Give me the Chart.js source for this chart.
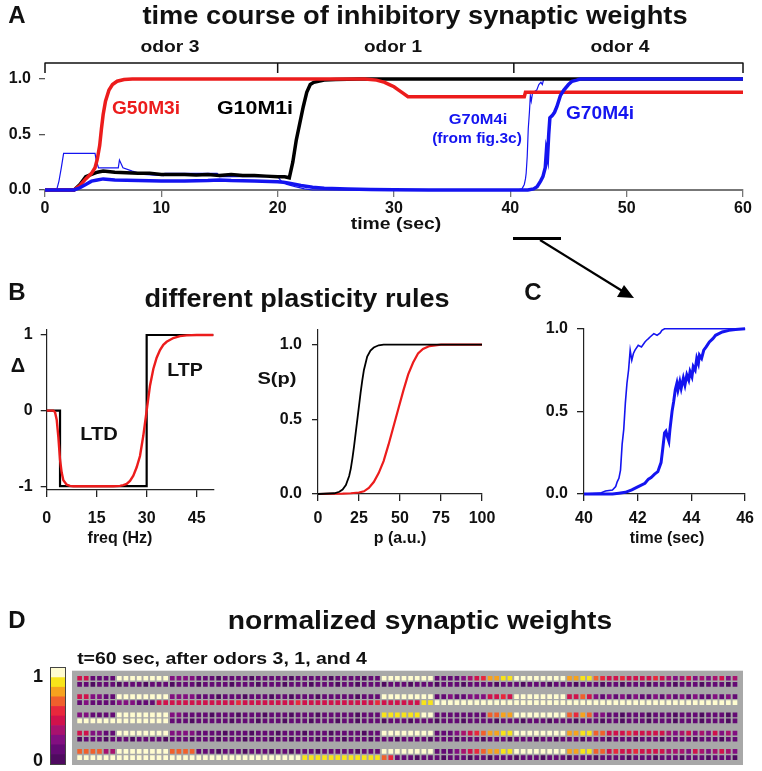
<!DOCTYPE html>
<html>
<head>
<meta charset="utf-8">
<script src="https://cdn.jsdelivr.net/npm/chart.js@4.4.1/dist/chart.umd.min.js"></script>
<style>
  html, body { margin: 0; padding: 0; background: #fff; }
  body { width: 762px; height: 771px; position: relative; overflow: hidden; font-family: "Liberation Sans", Arial, sans-serif; }
  canvas { position: absolute; }
  .t { position: absolute; white-space: nowrap; font-weight: bold; line-height: 1; color: #111; }
  svg { position: absolute; left: 0; top: 0; }
</style>
</head>
<body>
<canvas id="chartA"></canvas>
<canvas id="chartB1"></canvas>
<canvas id="chartB2"></canvas>
<canvas id="chartC"></canvas>
<canvas id="chartD"></canvas>
<canvas id="colorBar" style="outline:1px solid #444"></canvas>
<svg width="762" height="771">
  <line x1="513" y1="238.5" x2="561" y2="238.5" stroke="#000" stroke-width="3"/>
  <line x1="540" y1="240" x2="624" y2="292" stroke="#000" stroke-width="2.2"/>
  <polygon points="634,298 617,297 624,285" fill="#000"/>
</svg>
<script>
// ---------- panel A: time course of inhibitory weights ----------
const odorBounds = [0, 20, 40.3, 60];
const timeTicks = [0, 10, 20, 30, 40, 50, 60];
const weightTicks = [0, 0.5, 1];

const redT = [0, 2.5, 3.0, 3.5, 4.0, 4.3, 4.5, 4.7, 4.85, 5.0, 5.2, 5.5, 5.8, 6.2, 6.8, 7.5, 27.5, 28.5, 29.2, 29.6, 30.0, 30.4, 30.8, 31.2, 41.2, 41.3, 60];
const redW = [0, 0, 0.04, 0.1, 0.15, 0.2, 0.28, 0.4, 0.55, 0.68, 0.8, 0.9, 0.95, 0.98, 0.995, 1.0, 1.0, 0.99, 0.97, 0.95, 0.93, 0.9, 0.87, 0.84, 0.84, 0.88, 0.88];

const blackT = [0, 2.5, 3.0, 3.5, 4.0, 4.5, 5.0, 6.0, 7.0, 8.0, 9.0, 10, 11, 12, 13, 14, 15, 16, 17, 18, 19, 20, 20.6, 21.0, 21.3, 21.6, 21.9, 22.2, 22.5, 22.8, 23.1, 23.5, 24, 25, 27, 60];
const blackW = [0, 0, 0.05, 0.12, 0.14, 0.16, 0.17, 0.16, 0.155, 0.15, 0.15, 0.14, 0.14, 0.14, 0.135, 0.14, 0.13, 0.14, 0.13, 0.13, 0.125, 0.12, 0.12, 0.11, 0.25, 0.45, 0.6, 0.75, 0.88, 0.95, 0.97, 0.98, 0.99, 0.995, 1.0, 1.0];

const blueT = [0, 2.5, 3.0, 3.5, 4.0, 4.5, 5, 6, 8, 10, 12, 14, 15, 16, 18, 20, 20.5, 21, 22, 23, 24, 26, 28, 30, 33, 36, 41.5, 42.0, 42.3, 42.6, 42.8, 43.0, 43.1, 43.2, 43.3, 43.4, 43.6, 43.8, 44.0, 44.3, 44.6, 45.0, 45.3, 45.7, 46, 60];
const blueW = [0, 0, 0.02, 0.05, 0.08, 0.09, 0.1, 0.09, 0.085, 0.08, 0.08, 0.085, 0.09, 0.085, 0.08, 0.075, 0.07, 0.06, 0.04, 0.025, 0.015, 0.01, 0.005, 0.003, 0.001, 0, 0, 0.01, 0.03, 0.08, 0.12, 0.2, 0.35, 0.3, 0.5, 0.65, 0.67, 0.7, 0.75, 0.85, 0.9, 0.95, 0.98, 0.99, 1.0, 1.0];

// thin blue: G70M4i from fig.3c
const thinT = [0, 1.0, 1.2, 1.4, 1.6, 4.3, 4.4, 4.6, 6.3, 6.4, 6.7, 7.5, 8.5, 10.2, 10.3, 14.8, 15.0, 20.0, 20.3, 20.8, 21.5, 22.3, 23, 40.6, 41.0, 41.2, 41.3, 41.36, 41.45, 41.54, 41.64, 41.72, 41.8, 41.9, 42.0, 42.27, 42.45, 42.63, 42.75, 42.87, 60];
const thinW = [0, 0, 0.08, 0.2, 0.33, 0.33, 0.27, 0.2, 0.2, 0.27, 0.2, 0.17, 0.14, 0.13, 0.15, 0.15, 0.12, 0.12, 0.08, 0.05, 0.03, 0.01, 0, 0, 0.01, 0.05, 0.1, 0.15, 0.3, 0.55, 0.7, 0.85, 0.8, 0.87, 0.88, 0.9, 0.95, 0.97, 0.95, 1.0, 1.0];

// ---------- panel B: plasticity rules ----------
const freqTicks = [0, 15, 30, 45];
const deltaTicks = [-1, 0, 1];
const stepFreq = [0, 4, 4, 30, 30, 50];
const stepDelta = [0, 0, -1, -1, 1, 1];
const smoothFreq = [0, 2, 2.5, 3, 3.5, 4, 4.5, 5, 6, 7, 8, 20, 22, 23, 24, 25, 26, 27, 28, 29, 30, 31, 32, 33, 34, 35, 36, 38, 40, 42, 45, 50];
const smoothDelta = [0, 0, -0.02, -0.12, -0.35, -0.65, -0.82, -0.92, -0.98, -0.995, -1, -1, -0.995, -0.985, -0.97, -0.93, -0.86, -0.75, -0.6, -0.33, 0.0, 0.33, 0.55, 0.7, 0.8, 0.87, 0.91, 0.96, 0.985, 0.995, 1.0, 1.0];

const pTicks = [0, 25, 50, 75, 100];
const sTicks = [0, 0.5, 1];
const pBlack = [0, 10, 13, 15, 17, 19, 20, 21, 22, 23, 24, 25, 26, 27, 28, 30, 32, 34, 37, 40, 100];
const sBlack = [0, 0.005, 0.015, 0.03, 0.06, 0.12, 0.17, 0.24, 0.32, 0.41, 0.5, 0.59, 0.68, 0.76, 0.83, 0.92, 0.96, 0.98, 0.995, 1, 1];
const pRed = [0, 15, 20, 25, 28, 31, 34, 37, 40, 43, 46, 49, 52, 55, 58, 61, 64, 68, 75, 100];
const sRed = [0, 0.002, 0.005, 0.01, 0.018, 0.04, 0.08, 0.14, 0.22, 0.33, 0.45, 0.57, 0.69, 0.8, 0.88, 0.94, 0.97, 0.99, 1, 1];

// ---------- panel C: zoom on odor 4 onset ----------
const zoomTicks = [40, 42, 44, 46];
const zoomThinT = [40, 40.6, 40.8, 41.06, 41.18, 41.24, 41.3, 41.36, 41.42, 41.48, 41.54, 41.6, 41.66, 41.72, 41.78, 41.84, 41.9, 42.02, 42.14, 42.27, 42.33, 42.4, 42.46, 42.6, 42.72, 42.84, 42.9, 43.0, 46];
const zoomThinW = [0, 0.005, 0.018, 0.024, 0.045, 0.075, 0.095, 0.145, 0.3, 0.39, 0.55, 0.67, 0.75, 0.87, 0.81, 0.85, 0.87, 0.9, 0.89, 0.92, 0.93, 0.94, 0.95, 0.97, 0.96, 0.975, 0.99, 1.0, 1.0];
const zoomThickT = [40, 41.06, 41.3, 41.54, 41.78, 42.02, 42.27, 42.4, 42.5, 42.63, 42.75, 42.87, 42.93, 43.0, 43.05, 43.1, 43.16, 43.2, 43.28, 43.34, 43.4, 43.46, 43.5, 43.57, 43.62, 43.7, 43.76, 43.83, 43.9, 43.95, 44.02, 44.07, 44.14, 44.2, 44.26, 44.3, 44.38, 44.46, 44.55, 44.67, 44.8, 44.9, 45.15, 45.4, 45.64, 46];
const zoomThickW = [0, 0, 0.005, 0.01, 0.025, 0.045, 0.065, 0.09, 0.1, 0.12, 0.135, 0.19, 0.27, 0.37, 0.38, 0.35, 0.32, 0.39, 0.5, 0.56, 0.63, 0.67, 0.63, 0.68, 0.64, 0.7, 0.66, 0.72, 0.69, 0.74, 0.71, 0.77, 0.75, 0.82, 0.79, 0.84, 0.82, 0.87, 0.89, 0.92, 0.94, 0.96, 0.98, 0.99, 0.995, 1.0];

// ---------- panel D: normalized weights at t=60 (levels 0..9) ----------
const weightRows = [
  '4411119999' + '9999222211' + '1011110111' + '1101111101' + '1110119999' + '9999111123' + '4577889999' + '9999778865' + '4454444543' + '2342323423',
  '1101110111' + '0111011101' + '1110111011' + '1011101110' + '1101110111' + '0111011101' + '1110111011' + '1011101110' + '1101110111' + '0111011101',
  '4422119999' + '9999222211' + '1011101110' + '1101110111' + '1101119999' + '9999112112' + '2244549999' + '9999446421' + '2121211212' + '1212112121',
  '1211112221' + '1144444444' + '4444544444' + '4445444444' + '4444454444' + '4488999999' + '9999999999' + '9999999999' + '9999999999' + '9999999999',
  '2211119999' + '9999221111' + '0111011101' + '1101110111' + '1101118888' + '8899111111' + '1166779999' + '9999657622' + '1101110111' + '0111011101',
  '9999999999' + '9999111011' + '1110111011' + '1011101110' + '1101110111' + '0111011101' + '1110111011' + '1011101110' + '1101110111' + '0111011101',
  '4422119999' + '9999222211' + '1101110111' + '0111011101' + '1110119999' + '9999111234' + '5677889999' + '9999778866' + '4445444443' + '2342324232',
  '0111011101' + '1110111011' + '1011101110' + '1101110111' + '0111011101' + '1110111011' + '1011101110' + '1101110111' + '0111011101' + '1110111011',
  '6666339999' + '9999666611' + '1011101110' + '1101110111' + '1101119999' + '9999111234' + '5677889999' + '9999778866' + '4544544443' + '3324323432',
  '9999999999' + '9999999999' + '9999999999' + '9999888888' + '8888886511' + '1011101110' + '1101110111' + '0111011101' + '1110111011' + '1011101110'
];
const levelColors = ['#4f0a60', '#640a74', '#820f80', '#a8126e', '#d0124c', '#e8283c', '#f0602c', '#f6a21e', '#f8e41a', '#fffcd0'];

const FONT = '"Liberation Sans", Arial, sans-serif';
const tickFont = { family: FONT, size: 16, weight: 'bold' };
const RED = '#ec1c1c', BLUE = '#1414f0';

const pts = (xs, ys) => xs.map((x, i) => ({ x, y: ys[i] }));
const line = (xs, ys, color, width) => ({
  data: pts(xs, ys), borderColor: color, borderWidth: width,
  pointRadius: 0, tension: 0, fill: false, clip: false
});

// box = canvas rect on page, area = wanted chart area on page
function plot(id, box, area, datasets, sx, sy, extra) {
  const cv = document.getElementById(id);
  cv.width = box.w; cv.height = box.h;
  cv.style.left = box.x + 'px'; cv.style.top = box.y + 'px';
  const axis = (s, isX) => ({
    type: 'linear', min: s.min, max: s.max,
    afterBuildTicks: sc => { sc.ticks = s.ticks.map(v => ({ value: v })); },
    afterFit: sc => { if (isX) sc.height = box.y + box.h - area.b; else sc.width = area.l - box.x; },
    grid: { drawOnChartArea: false, tickLength: s.tick, color: s.color, lineWidth: 1.3 },
    border: { display: s.line !== false, color: s.color, width: s.lineW || 1.2 },
    ticks: { padding: s.pad, color: '#111', font: tickFont, maxRotation: 0, autoSkip: false, callback: s.fmt || (v => String(v)) }
  });
  return new Chart(cv, {
    type: 'line',
    data: { datasets },
    options: {
      responsive: false, animation: false, events: [],
      layout: { padding: { left: 0, top: area.t - box.y, right: box.x + box.w - area.r, bottom: 0 } },
      plugins: { legend: { display: false }, tooltip: { enabled: false } },
      scales: { x: axis(sx, true), y: axis(sy, false) }
    },
    plugins: extra || []
  });
}

const oneDec = v => v.toFixed(1);

// bracket over the odor periods, on the time scale
const odorBracket = {
  id: 'odorBracket',
  afterDraw(chart) {
    const { ctx, scales: { x } } = chart;
    ctx.save();
    ctx.strokeStyle = '#111';
    ctx.lineWidth = 1.5;
    ctx.beginPath();
    ctx.moveTo(x.getPixelForValue(odorBounds[0]), 63);
    ctx.lineTo(x.getPixelForValue(odorBounds[odorBounds.length - 1]), 63);
    odorBounds.forEach(t => {
      const px = x.getPixelForValue(t);
      ctx.moveTo(px, 62.5);
      ctx.lineTo(px, 73);
    });
    ctx.stroke();
    ctx.restore();
  }
};

plot('chartA', { x: 0, y: 0, w: 762, h: 250 }, { l: 45, r: 743, t: 79, b: 190 }, [
  line(blueT, blueW, BLUE, 3.5),
  line(redT, redW, RED, 3.5),
  line(blackT, blackW, '#000', 3.5),
  line(thinT, thinW, BLUE, 1.2)
], { min: 0, max: 60, ticks: timeTicks, tick: 7, pad: 2, color: '#777', lineW: 2 },
   { min: 0, max: 1, ticks: weightTicks, tick: 6, pad: 8, color: '#555', line: false, fmt: oneDec },
   [odorBracket]);

plot('chartB1', { x: 0, y: 310, w: 250, h: 240 }, { l: 46.7, r: 213.3, t: 329.7, b: 490 }, [
  line(smoothFreq, smoothDelta, RED, 2.4),
  line(stepFreq, stepDelta, '#000', 2.2)
], { min: 0, max: 50, ticks: freqTicks, tick: 7, pad: 12, color: '#222' },
   { min: -1.05, max: 1.07, ticks: deltaTicks, tick: 6, pad: 8, color: '#222' });

plot('chartB2', { x: 250, y: 310, w: 262, h: 240 }, { l: 318, r: 482, t: 328, b: 494 }, [
  line(pBlack, sBlack, '#000', 1.8),
  line(pRed, sRed, RED, 2.2)
], { min: 0, max: 100, ticks: pTicks, tick: 7, pad: 8, color: '#222' },
   { min: 0, max: 1.1, ticks: sTicks, tick: 6, pad: 10, color: '#222', fmt: oneDec });

plot('chartC', { x: 512, y: 310, w: 250, h: 240 }, { l: 584, r: 750, t: 328.7, b: 494 }, [
  line(zoomThinT, zoomThinW, BLUE, 1.6),
  line(zoomThickT, zoomThickW, BLUE, 3)
], { min: 40, max: 46, ticks: zoomTicks, tick: 7, pad: 8, color: '#222' },
   { min: 0, max: 1, ticks: sTicks, tick: 7, pad: 9, color: '#222', fmt: oneDec });

// ---------- heatmap ----------
const cells = [], cellColors = [];
weightRows.forEach((row, r) => {
  const y = Math.floor(r / 2) * 3 + (r % 2);
  [...row].forEach((ch, c) => {
    cells.push({ x: c, y });
    cellColors.push(levelColors[+ch]);
  });
});

const greyBox = {
  id: 'greyBox',
  beforeDatasetsDraw(chart) {
    const { ctx, chartArea: a } = chart;
    ctx.save();
    ctx.fillStyle = '#a8a8a8';
    ctx.fillRect(a.left - 4.3, a.top - 4.5, a.width + 9, a.height + 8.9);
    ctx.restore();
  }
};

const dCv = document.getElementById('chartD');
dCv.width = 762; dCv.height = 131;
dCv.style.left = '0px'; dCv.style.top = '640px';
new Chart(dCv, {
  type: 'scatter',
  data: { datasets: [{ data: cells, pointStyle: 'rect', pointRadius: 3.3, borderWidth: 0, backgroundColor: cellColors }] },
  options: {
    responsive: false, animation: false, events: [],
    layout: { padding: { left: 76.3, right: 23.7, top: 35.2, bottom: 10.4 } },
    plugins: { legend: { display: false }, tooltip: { enabled: false } },
    scales: {
      x: { type: 'linear', min: -0.5, max: 99.5, display: false },
      y: { type: 'linear', min: -0.5, max: 13.5, reverse: true, display: false }
    }
  },
  plugins: [greyBox]
});

// colour scale bar
const cbCv = document.getElementById('colorBar');
cbCv.width = 14; cbCv.height = 96;
cbCv.style.left = '51px'; cbCv.style.top = '668px';
new Chart(cbCv, {
  type: 'bar',
  data: {
    labels: [''],
    datasets: levelColors.map(c => ({ data: [1 / levelColors.length], backgroundColor: c, borderWidth: 0, barPercentage: 1, categoryPercentage: 1 }))
  },
  options: {
    responsive: false, animation: false, events: [],
    layout: { padding: 0 },
    plugins: { legend: { display: false }, tooltip: { enabled: false } },
    scales: {
      x: { stacked: true, display: false },
      y: { stacked: true, min: 0, max: 1, display: false }
    }
  }
});

// ---------- text ----------
const labels = [
  { t: 'A', x: 17, y: 15, s: 24 },
  { t: 'time course of inhibitory synaptic weights', x: 415, y: 15, s: 25, w: 545 },
  { t: 'odor 3', x: 170, y: 46, s: 17, w: 59 },
  { t: 'odor 1', x: 393, y: 46, s: 17, w: 58 },
  { t: 'odor 4', x: 620, y: 46, s: 17, w: 59 },
  { t: 'G50M3i', x: 146, y: 108, s: 18, w: 68, c: RED },
  { t: 'G10M1i', x: 255, y: 108, s: 18, w: 76, c: '#000' },
  { t: 'G70M4i', x: 478, y: 118, s: 15, w: 58, c: BLUE, n: true },
  { t: '(from fig.3c)', x: 477, y: 137, s: 15, w: 90, c: BLUE, n: true },
  { t: 'G70M4i', x: 600, y: 113, s: 18, w: 68, c: BLUE },
  { t: 'time (sec)', x: 396, y: 223, s: 17, w: 90 },
  { t: 'B', x: 17, y: 292, s: 24 },
  { t: 'different plasticity rules', x: 297, y: 298, s: 25, w: 305 },
  { t: 'C', x: 533, y: 292, s: 24 },
  { t: '\u0394', x: 18, y: 365, s: 20 },
  { t: 'LTD', x: 99, y: 434, s: 18, w: 38 },
  { t: 'LTP', x: 185, y: 370, s: 18, w: 36 },
  { t: 'S(p)', x: 277, y: 378, s: 17, w: 39 },
  { t: 'freq (Hz)', x: 120, y: 538, s: 16 },
  { t: 'p (a.u.)', x: 400, y: 538, s: 16 },
  { t: 'time (sec)', x: 667, y: 538, s: 16 },
  { t: 'D', x: 17, y: 620, s: 24 },
  { t: 'normalized synaptic weights', x: 420, y: 620, s: 25, w: 384 },
  { t: 't=60 sec, after odors 3, 1, and 4', x: 222, y: 658, s: 17, w: 290 },
  { t: '1', x: 38, y: 676, s: 18 },
  { t: '0', x: 38, y: 760, s: 18 }
];

labels.forEach(l => {
  const el = document.createElement('div');
  el.className = 't';
  el.textContent = l.t;
  el.style.fontSize = l.s + 'px';
  el.style.left = l.x + 'px';
  el.style.top = l.y + 'px';
  if (l.c) el.style.color = l.c;
  if (l.n) el.style.fontWeight = '600';
  document.body.appendChild(el);
  const k = l.w ? l.w / el.offsetWidth : 1;
  el.style.transform = `translate(-50%, -50%) scaleX(${k})`;
});
</script>
</body>
</html>
